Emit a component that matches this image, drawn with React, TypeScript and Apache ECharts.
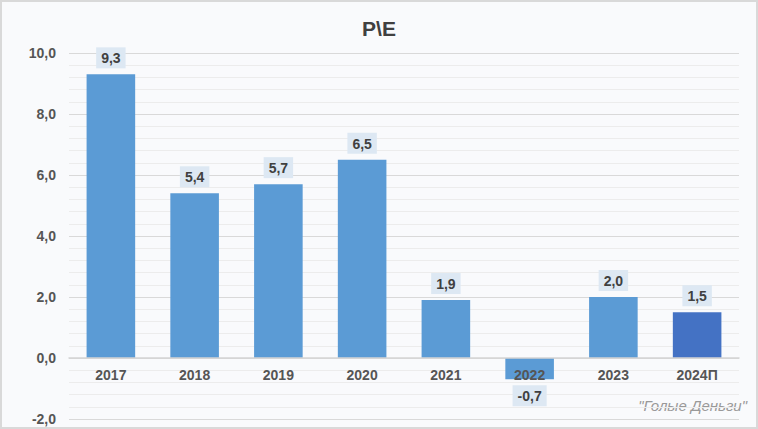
import React, { useEffect, useRef } from "react";
import * as echarts from "echarts";

const categories = ["2017", "2018", "2019", "2020", "2021", "2022", "2023", "2024П"];
const values = [9.3, 5.4, 5.7, 6.5, 1.9, -0.7, 2.0, 1.5];
const barColors = ["#5b9bd5", "#5b9bd5", "#5b9bd5", "#5b9bd5", "#5b9bd5", "#5b9bd5", "#5b9bd5", "#4472c4"];
const titleText = "P\\E";
const watermark = "\"Голые Деньги\"";
const yMin = -2;
const yMax = 10;

const fmt = (v: number) => v.toFixed(1).replace(".", ",");

export default function App() {
  const ref = useRef<HTMLDivElement>(null);
  useEffect(() => {
    const chart = echarts.init(ref.current!, undefined, { renderer: "svg" });
    const gridTop = 51;
    const gridBottom = 8;
    const plotH = 425 - gridTop - gridBottom;
    const zeroOffset = (plotH * (0 - yMin)) / (yMax - yMin);
    chart.setOption({
      animation: false,
      backgroundColor: "#f9fafc",
      title: {
        text: titleText,
        left: "center",
        top: 11,
        textStyle: { fontFamily: "Liberation Sans", fontSize: 21, fontWeight: "bold", color: "#404040" },
      },
      graphic: [
        {
          type: "text",
          right: 9,
          top: 396,
          style: {
            text: watermark,
            font: "italic 15px 'Liberation Sans'",
            fill: "#999999",
          },
        },
      ],
      grid: { left: 67, right: 17, top: gridTop, bottom: gridBottom, containLabel: false, outerBoundsMode: "none" },
      xAxis: {
        type: "category",
        data: categories,
        z: 5,
        offset: -zeroOffset,
        axisLine: { onZero: false, lineStyle: { color: "#d4d4d4", width: 1.5 } },
        axisTick: { show: false },
        axisLabel: {
          margin: 10,
          fontFamily: "Liberation Sans",
          fontSize: 14,
          fontWeight: "bold",
          color: "#555555",
        },
      },
      yAxis: {
        type: "value",
        min: yMin,
        max: yMax,
        interval: 2,
        axisLine: { show: false },
        axisTick: { show: false },
        axisLabel: {
          formatter: (v: number) => fmt(v),
          margin: 13,
          fontFamily: "Liberation Sans",
          fontSize: 14,
          fontWeight: "bold",
          color: "#555555",
        },
        splitLine: { lineStyle: { color: "#d9d9d9", width: 1.2 } },
        minorTick: { show: false, splitNumber: 5 },
        minorSplitLine: { show: true, lineStyle: { color: "#ececec", width: 1 } },
      },
      series: [
        {
          type: "bar",
          data: values.map((v, i) => ({
            value: v,
            itemStyle: { color: barColors[i] },
            label: { position: v < 0 ? "bottom" : "top" },
          })),
          barWidth: "58%",
          label: {
            show: true,
            formatter: (p: any) => fmt(p.value),
            position: "top",
            distance: 6,
            fontFamily: "Liberation Sans",
            fontSize: 14,
            fontWeight: "bold",
            color: "#404040",
            backgroundColor: "#dde8f3",
            padding: [4, 5, 3, 5],
          },
        },
      ],
    });
    return () => chart.dispose();
  }, []);
  return (
    <div
      ref={ref}
      style={{
        position: "absolute",
        left: 0,
        top: 0,
        width: 758,
        height: 429,
        boxSizing: "border-box",
        border: "2px solid #d9d9d9",
      }}
    />
  );
}
